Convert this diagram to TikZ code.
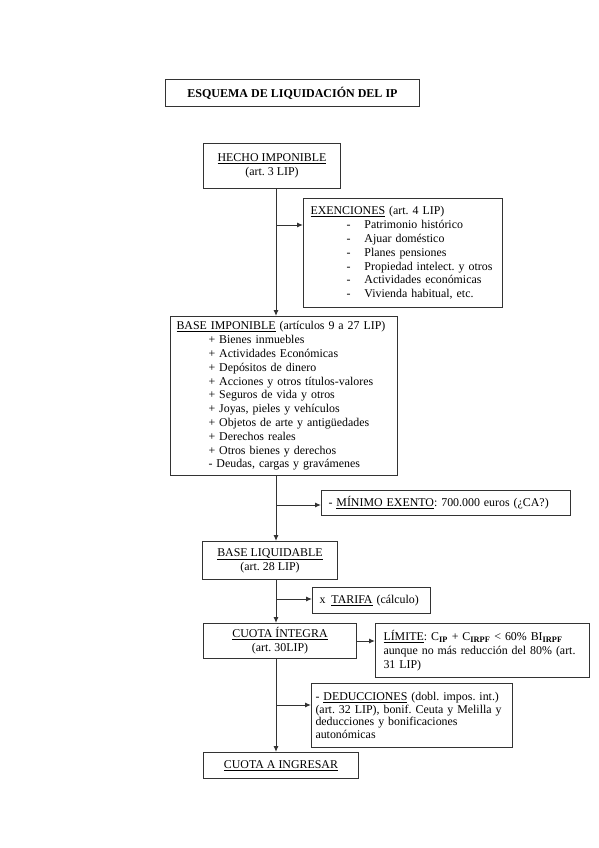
\documentclass[tikz,border=0pt]{standalone}
\usepackage{fontspec}
\setmainfont{Liberation Serif}
\usetikzlibrary{arrows.meta}
\frenchspacing
\newcommand{\exitem}{\makebox[54pt][l]{\hspace*{36pt}-}}
\newcommand{\biitem}{\hspace*{32pt}}
\begin{document}
\begin{tikzpicture}[x=1pt,y=-1pt,
  box/.style={draw=black!80, line width=1pt, anchor=north west, inner ysep=0pt,
    font=\fontsize{11.9}{13.8}\selectfont, text=black},
  conn/.style={draw=black!80, line width=1pt},
  arr/.style={conn, -{Latex[length=6pt,width=5pt]}}]
\useasboundingbox (0,0) rectangle (599,848);

\node[box, minimum width=254, minimum height=27,
  font=\bfseries\fontsize{12}{14}\selectfont] (title) at (165,79)
  {ESQUEMA DE LIQUIDACIÓN DEL IP};

\node[box, minimum width=137, minimum height=45, align=center] (hecho) at (203,143)
  {\underline{HECHO IMPONIBLE}\\(art. 3 LIP)};

\node[box, inner xsep=7pt, text width=185pt, minimum height=109, align=left] (exen) at (303,198)
  {\underline{EXENCIONES} (art. 4 LIP)\\
   \exitem Patrimonio histórico\\
   \exitem Ajuar doméstico\\
   \exitem Planes pensiones\\
   \exitem Propiedad intelect. y otros\\
   \exitem Actividades económicas\\
   \exitem Vivienda habitual, etc.};

\node[box, inner xsep=6pt, text width=215pt, minimum height=159, align=left] (baseimp) at (170,316)
  {\underline{BASE IMPONIBLE} (artículos 9 a 27 LIP)\\
   \biitem + Bienes inmuebles\\
   \biitem + Actividades Económicas\\
   \biitem + Depósitos de dinero\\
   \biitem + Acciones y otros títulos-valores\\
   \biitem + Seguros de vida y otros\\
   \biitem + Joyas, pieles y vehículos\\
   \biitem + Objetos de arte y antigüedades\\
   \biitem + Derechos reales\\
   \biitem + Otros bienes y derechos\\
   \biitem - Deudas, cargas y gravámenes};

\node[box, inner xsep=7pt, text width=235pt, minimum height=25, align=left] (minimo) at (321,490)
  {- \underline{MÍNIMO EXENTO}: 700.000 euros (¿CA?)};

\node[box, minimum width=135, minimum height=38, align=center] (baseliq) at (202,541)
  {\underline{BASE LIQUIDABLE}\\(art. 28 LIP)};

\node[box, inner xsep=7pt, text width=104pt, minimum height=26, align=left] (tarifa) at (312,587)
  {x\hspace{6pt}\underline{TARIFA} (cálculo)};

\node[box, minimum width=153, minimum height=35, align=center] (cuotai) at (203,623)
  {\underline{CUOTA ÍNTEGRA}\\(art. 30LIP)};

\node[box, inner xsep=8pt, text width=198pt, minimum height=54, align=left] (limite) at (375,623)
  {\underline{LÍMITE}: C\textsubscript{\textbf{IP}} + C\textsubscript{\textbf{IRPF}} < 60\% BI\textsubscript{\textbf{IRPF}}\\
   aunque no más reducción del 80\% (art.\\
   31 LIP)};

\node[box, inner xsep=4pt, text width=193pt, minimum height=64, align=left,
  font=\fontsize{11.9}{12.7}\selectfont] (deduc) at (311,683)
  {- \underline{DEDUCCIONES} (dobl. impos. int.)\\
   (art. 32 LIP), bonif. Ceuta y Melilla y\\
   deducciones y bonificaciones\\
   autonómicas};

\node[box, minimum width=155, minimum height=26, align=center] (cuotaing) at (203,752)
  {\underline{CUOTA A INGRESAR}};

\coordinate (sp) at (276,0);
\coordinate (j1) at (276,225);
\coordinate (j2) at (276,505);
\coordinate (j3) at (276,599);
\coordinate (j4) at (276,705);

\draw[arr] (hecho.south -| sp) -- (baseimp.north -| sp);
\draw[arr] (j1) -- (j1 -| exen.west);
\draw[arr] (baseimp.south -| sp) -- (baseliq.north -| sp);
\draw[arr] (j2) -- (j2 -| minimo.west);
\draw[arr] (baseliq.south -| sp) -- (cuotai.north -| sp);
\draw[arr] (j3) -- (j3 -| tarifa.west);
\draw[arr] (cuotai.east) -- (cuotai.east -| limite.west);
\draw[arr] (cuotai.south -| sp) -- (cuotaing.north -| sp);
\draw[arr] (j4) -- (j4 -| deduc.west);
\end{tikzpicture}
\end{document}
